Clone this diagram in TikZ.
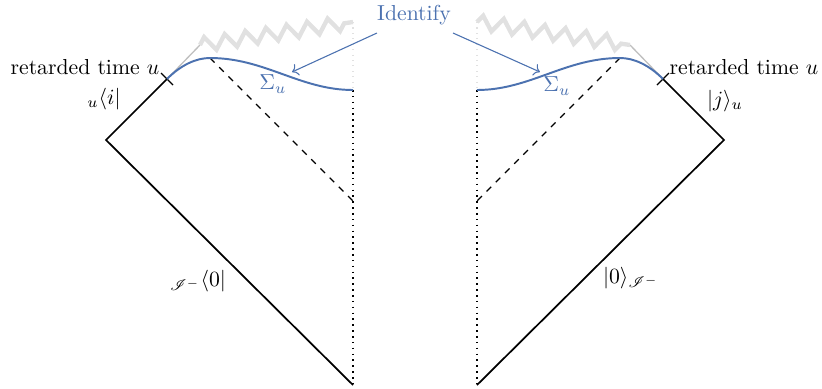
\documentclass[tikz,border=0pt]{standalone}
\usepackage{mathrsfs}
\usetikzlibrary{decorations.pathmorphing,arrows.meta}
\definecolor{sblue}{RGB}{76,114,176}
\definecolor{zgray}{RGB}{225,225,225}
\begin{document}
\begin{tikzpicture}[x=0.461pt,y=-0.461pt,
  bnd/.style={line width=0.8pt,black},
  sing/.style={zgray,line width=2pt,line join=miter,decorate,decoration={zigzag,segment length=9.6pt,amplitude=3.3pt}},
  glin/.style={zgray!85!black,line width=0.6pt},
  surf/.style={sblue,line width=0.9pt},
  ray/.style={dashed,line width=0.5pt},
  axisdot/.style={dotted,line width=0.7pt},
  axisdim/.style={dotted,line width=0.5pt,zgray},
  idarrow/.style={sblue,line width=0.5pt,->},
  lab/.style={inner sep=0pt}
]
\useasboundingbox (0,0) rectangle (822,389);
% ---------- left diagram ----------
\coordinate (LB) at (353,385);
\coordinate (LL) at (106,140);
\coordinate (LT) at (167,79);
\coordinate (LG) at (200,45);
\coordinate (LZ) at (353,22);
\coordinate (LS) at (353,90);
\coordinate (LP) at (210,58);
\coordinate (LD) at (353,201);
\draw[glin] (LT) -- (LG);
\draw[sing] (LG) -- (LZ);
\draw[axisdim] (LZ) -- (LS);
\draw[axisdot] (LS) -- (LB);
\draw[bnd] (LB) -- (LL) -- (LT);
\draw[line width=0.5pt] (LT) ++(-6,-6) -- ++(12,12);
\draw[ray] (LP) -- (LD);
\draw[surf] (LT) .. controls (181,65) and (196,58) .. (LP)
  .. controls (265,58) and (300,90) .. (LS);
% ---------- right diagram ----------
\coordinate (RB) at (477,385);
\coordinate (RR) at (724,140);
\coordinate (RT) at (663,79);
\coordinate (RG) at (630,45);
\coordinate (RZ) at (477,22);
\coordinate (RS) at (477,90);
\coordinate (RP) at (620,58);
\coordinate (RD) at (477,201);
\draw[glin] (RT) -- (RG);
\draw[sing] (RZ) -- (RG);
\draw[axisdim] (RZ) -- (RS);
\draw[axisdot] (RS) -- (RB);
\draw[bnd] (RB) -- (RR) -- (RT);
\draw[line width=0.5pt] (RT) ++(6,-6) -- ++(-12,12);
\draw[ray] (RP) -- (RD);
\draw[surf] (RT) .. controls (649,65) and (634,58) .. (RP)
  .. controls (565,58) and (530,90) .. (RS);
% ---------- labels ----------
\node[lab] (rtL) at (85,67) {retarded time $u$};
\node[lab] (rtR) at (744,67) {retarded time $u$};
\node[lab] (bra) at (104,99) {${}_u\langle i|$};
\node[lab] (ket) at (725,101) {$|j\rangle_u$};
\node[lab] (vacL) at (198,281) {${}_{\mathscr{I}^-}\langle 0|$};
\node[lab] (vacR) at (631,278) {$|0\rangle_{\mathscr{I}^-}$};
\node[lab,text=sblue] (sigL) at (273,84) {$\Sigma_u$};
\node[lab,text=sblue] (sigR) at (557,86) {$\Sigma_u$};
\node[lab,text=sblue] (id) at (414,15) {Identify};
\coordinate (aLs) at (377,33);
\coordinate (aLe) at (292,72);
\coordinate (aRs) at (453,33);
\coordinate (aRe) at (540,72);
\draw[idarrow] (aLs) -- (aLe);
\draw[idarrow] (aRs) -- (aRe);
\end{tikzpicture}
\end{document}
